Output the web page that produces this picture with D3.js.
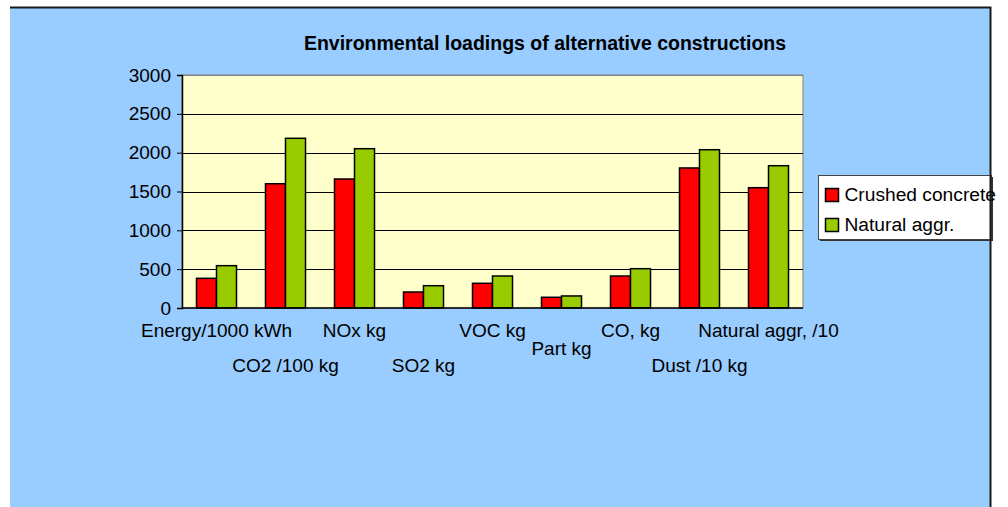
<!DOCTYPE html>
<html>
<head>
<meta charset="utf-8">
<script src="https://cdn.jsdelivr.net/npm/d3@7"></script>
<style>
  body { margin: 0; background: #fff; }
  text { font-family: "Liberation Sans", Arial, sans-serif; }
</style>
</head>
<body>
<svg id="chart" width="1008" height="507"></svg>
<script>
// data
const categories = ["Energy/1000 kWh", "CO2 /100 kg", "NOx kg", "SO2 kg", "VOC kg",
  "Part kg", "CO, kg", "Dust /10 kg", "Natural aggr, /10"];
const crushed = [382, 1600, 1661, 206, 318, 138, 412, 1803, 1549];
const natural = [545, 2185, 2051, 287, 412, 155, 506, 2038, 1832];
const seriesNames = ["Crushed concrete", "Natural aggr."];
const yTicks = [0, 500, 1000, 1500, 2000, 2500, 3000];
// label row for each category (0 = upper, 1 = lower, 0.5 = between)
const labelRows = [0, 1, 0, 1, 0, 0.5, 0, 1, 0];

const colors = ["#ff0000", "#99cc00"];

const svg = d3.select("#chart");

// chart area background
svg.append("rect")
  .attr("x", 10).attr("y", 7)
  .attr("width", 980).attr("height", 500)
  .attr("fill", "#99ccff");

const plot = { left: 182, right: 803, top: 75, bottom: 308 };

const x = d3.scaleBand()
  .domain(categories)
  .range([plot.left, plot.right])
  .paddingInner(0.42)
  .paddingOuter(0.21);

const x1 = d3.scaleBand()
  .domain([0, 1])
  .range([0, x.bandwidth()]);

const y = d3.scaleLinear()
  .domain([0, 3000])
  .range([plot.bottom, plot.top]);

// plot area
svg.append("rect")
  .attr("x", plot.left).attr("y", plot.top)
  .attr("width", plot.right - plot.left)
  .attr("height", plot.bottom - plot.top)
  .attr("fill", "#ffffcc")
  .attr("stroke", "#808080")
  .attr("stroke-width", 1);

// gridlines
svg.append("g")
  .selectAll("line")
  .data(yTicks.filter(d => d > 0))
  .join("line")
  .attr("x1", plot.left).attr("x2", plot.right)
  .attr("y1", d => Math.round(y(d)) + 0.5)
  .attr("y2", d => Math.round(y(d)) + 0.5)
  .attr("stroke", d => d === 3000 ? "#808080" : "#000")
  .attr("stroke-width", 1);

// bars
const seriesData = [crushed, natural];
const groups = svg.append("g")
  .selectAll("g")
  .data(categories)
  .join("g")
  .attr("transform", d => `translate(${x(d)},0)`);

groups.selectAll("rect")
  .data((d, i) => seriesData.map((s, k) => ({ k, v: s[i] })))
  .join("rect")
  .attr("x", d => x1(d.k))
  .attr("y", d => y(d.v))
  .attr("width", x1.bandwidth())
  .attr("height", d => y(0) - y(d.v))
  .attr("fill", d => colors[d.k])
  .attr("stroke", "#000")
  .attr("stroke-width", 1.5);

// y axis
const yAxis = d3.axisLeft(y)
  .tickValues(yTicks)
  .tickSize(5)
  .tickPadding(6)
  .tickFormat(d3.format("d"));

const ya = svg.append("g")
  .attr("transform", `translate(${plot.left},0)`)
  .call(yAxis);
ya.select(".domain").attr("stroke", "#000").attr("stroke-width", 1.5);
ya.selectAll(".tick line").attr("stroke", "#000");
ya.selectAll("text")
  .attr("font-size", 19)
  .attr("fill", "#000")
  .style("font-family", "'Liberation Sans', Arial, sans-serif");

// x axis baseline
svg.append("line")
  .attr("x1", plot.left).attr("x2", plot.right)
  .attr("y1", plot.bottom).attr("y2", plot.bottom)
  .attr("stroke", "#000").attr("stroke-width", 1.5);

// category labels, staggered in rows
svg.append("g")
  .selectAll("text")
  .data(categories)
  .join("text")
  .attr("x", d => x(d) + x.bandwidth() / 2)
  .attr("y", (d, i) => plot.bottom + 29 + labelRows[i] * 35)
  .attr("text-anchor", "middle")
  .attr("font-size", 19)
  .attr("fill", "#000")
  .text(d => d);

// title
svg.append("text")
  .attr("x", 545).attr("y", 50)
  .attr("text-anchor", "middle")
  .attr("font-size", 19.5)
  .attr("font-weight", "bold")
  .attr("fill", "#000")
  .text("Environmental loadings of alternative constructions");

// legend
const legend = svg.append("g").attr("transform", "translate(818.5,175.5)");
legend.append("rect")
  .attr("x", 1.5).attr("y", 1.5)
  .attr("width", 173).attr("height", 64)
  .attr("fill", "#333");
legend.append("rect")
  .attr("width", 173).attr("height", 64)
  .attr("fill", "#fff")
  .attr("stroke", "#444")
  .attr("stroke-width", 1);

// chart frame (top and right edges)
svg.append("path")
  .attr("d", "M10,7.5H990.5V507")
  .attr("fill", "none")
  .attr("stroke", "#1a1a1a")
  .attr("stroke-width", 2);

const items = legend.selectAll("g.item")
  .data(seriesNames)
  .join("g")
  .attr("class", "item")
  .attr("transform", (d, i) => `translate(7,${13 + i * 30})`);
items.append("rect")
  .attr("width", 13).attr("height", 13)
  .attr("fill", (d, i) => colors[i])
  .attr("stroke", "#000")
  .attr("stroke-width", 1.5);
items.append("text")
  .attr("x", 19).attr("y", 12.5)
  .attr("font-size", 19.2)
  .attr("fill", "#000")
  .text(d => d);
</script>
</body>
</html>
